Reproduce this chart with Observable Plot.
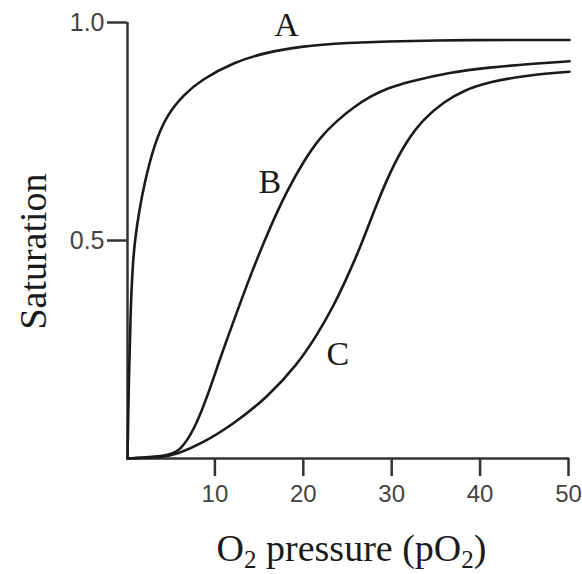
<!DOCTYPE html>
<html>
<head>
<meta charset="utf-8">
<script src="https://cdn.jsdelivr.net/npm/d3@7"></script>
<script src="https://cdn.jsdelivr.net/npm/@observablehq/plot@0.6"></script>
<style>
  html, body { margin: 0; padding: 0; background: #fff; }
  #chart svg { display: block; }
</style>
</head>
<body>
<div id="chart"></div>
<script>
// Curve A
const aX = [0, 0, 0.15, 0.35, 0.6, 0.9, 1.3, 1.9, 3, 4.5, 6.4, 8.3, 12, 15.8, 19.6, 24, 34, 50, 50];
const aY = [0, 0, 0.18, 0.34, 0.45, 0.51, 0.565, 0.63, 0.72, 0.79, 0.835, 0.868, 0.909, 0.932, 0.945, 0.953, 0.96, 0.96, 0.96];
// Curve B
const bX = [0, 0, 3, 5, 6, 7.5, 9, 10.5, 12, 13.9, 16, 18.07, 19.95, 21.8, 23.7, 25.6, 27.5, 29.4, 31.8, 36.5, 40.9, 45.6, 50, 50];
const bY = [0, 0, 0.003, 0.01, 0.02, 0.064, 0.14, 0.231, 0.315, 0.42, 0.525, 0.615, 0.683, 0.737, 0.775, 0.806, 0.831, 0.849, 0.864, 0.886, 0.897, 0.905, 0.911, 0.911];
// Curve C
const cX = [0, 0, 4, 5.6, 8.3, 12, 15.8, 19.2, 21.5, 23.3, 24.5, 26.4, 27.9, 29.75, 31.6, 33.5, 35.8, 38, 40.9, 45.6, 50, 50];
const cY = [0, 0, 0.003, 0.01, 0.033, 0.079, 0.14, 0.215, 0.285, 0.35, 0.40, 0.487, 0.569, 0.66, 0.729, 0.779, 0.818, 0.844, 0.864, 0.88, 0.887, 0.887];

const curveNames = ["A", "B", "C"];
const labelX = [18.0, 16.1, 23.8];
const labelY = [0.995, 0.633, 0.239];

const xTicks = [10, 20, 30, 40, 50];
const yTicks = [0.5, 1.0];
const xTitle = "O2 pressure (pO2)";
const yTitle = "Saturation";

const series = [
  ...aX.map((x, i) => ({curve: "A", x, y: aY[i]})),
  ...bX.map((x, i) => ({curve: "B", x, y: bY[i]})),
  ...cX.map((x, i) => ({curve: "C", x, y: cY[i]}))
];
const labels = curveNames.map((name, i) => ({name, x: labelX[i], y: labelY[i]}));

const sans = "'Liberation Sans', Arial, sans-serif";
const serif = "'Liberation Serif', 'Times New Roman', serif";

const chart = Plot.plot({
  width: 582,
  height: 574,
  marginLeft: 127,
  marginRight: 13,
  marginTop: 22,
  marginBottom: 116,
  style: {background: "#fff", color: "#222"},
  x: {domain: [0, 50]},
  y: {domain: [0, 1]},
  marks: [
    Plot.axisX({ticks: xTicks, tickSize: 18, tickPadding: 8, fontSize: 24, fontFamily: sans, fill: "#444", stroke: "#333", strokeWidth: 2.5, label: null, dx: -1}),
    Plot.axisY({ticks: yTicks, tickFormat: d3.format(".1f"), tickSize: 20, tickPadding: 3, fontSize: 25, fontFamily: sans, fill: "#444", stroke: "#333", strokeWidth: 2.5, label: null}),
    Plot.ruleY([0], {stroke: "#333", strokeWidth: 2.5}),
    Plot.ruleX([0], {stroke: "#333", strokeWidth: 2.5}),
    Plot.line(series, {x: "x", y: "y", z: "curve", curve: "basis", stroke: "#1a1a1a", strokeWidth: 2.6}),
    Plot.text(labels, {x: "x", y: "y", text: "name", fontFamily: serif, fontSize: 34, fill: "#1a1a1a"}),
    Plot.text([xTitle], {frameAnchor: "bottom", textAnchor: "middle", lineAnchor: "bottom", dx: 3, dy: 102, fontFamily: serif, fontSize: 38, fill: "#1a1a1a", className: "xtitle"}),
    Plot.text([yTitle], {frameAnchor: "left", textAnchor: "middle", lineAnchor: "middle", rotate: -90, dx: -94, dy: 11, fontFamily: serif, fontSize: 38, fill: "#1a1a1a"})
  ]
});

// real subscripts in the x-axis title
const t = chart.querySelector(".xtitle text");
if (t) {
  t.textContent = "";
  const parts = [["O", 0, null], ["2", 7, 25], [" pressure (pO", -7, null], ["2", 7, 25], [")", -7, null]];
  for (const [s, dy, fs] of parts) {
    const ts = document.createElementNS("http://www.w3.org/2000/svg", "tspan");
    ts.textContent = s;
    if (dy) ts.setAttribute("dy", dy);
    if (fs) ts.setAttribute("font-size", fs);
    t.appendChild(ts);
  }
}
document.getElementById("chart").appendChild(chart);
</script>
</body>
</html>
